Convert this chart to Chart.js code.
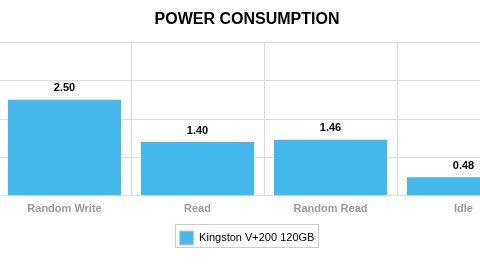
<!DOCTYPE html>
<html>
<head>
<meta charset="utf-8">
<script src="https://cdn.jsdelivr.net/npm/chart.js@4"></script>
<style>
  html, body { margin: 0; padding: 0; background: #fff; overflow: hidden; width: 480px; height: 267px; }
  #wrap { position: absolute; left: -36px; top: 0; width: 576px; height: 267px; }
</style>
</head>
<body>
<div id="wrap"><canvas id="powerChart"></canvas></div>
<script>
// chart data
const categories = ['Random Write', 'Read', 'Random Read', 'Idle'];
const seriesName = 'Kingston V+200 120GB';
const seriesValues = [2.50, 1.40, 1.46, 0.48];
const yTicks = [0, 1, 2, 3, 4];

const barColor = '#45b8ec';
const gridColor = '#dddddd';
const fontFamily = '"Liberation Sans", Arial, Helvetica, sans-serif';

// value labels above each bar
const barValueLabels = {
    id: 'barValueLabels',
    afterDatasetsDraw(chart) {
        const ctx = chart.ctx;
        ctx.save();
        ctx.font = 'bold 11px ' + fontFamily;
        ctx.fillStyle = '#000';
        ctx.textAlign = 'center';
        ctx.textBaseline = 'bottom';
        chart.getDatasetMeta(0).data.forEach((bar, i) => {
            ctx.fillText(seriesValues[i].toFixed(2), bar.x, bar.y - 6);
        });
        ctx.restore();
    }
};

// thin frame around the legend
const legendFrame = {
    id: 'legendFrame',
    afterDraw(chart) {
        const items = chart.legend.legendHitBoxes;
        if (!items || !items.length) return;
        const ctx = chart.ctx;
        let left = Infinity, right = -Infinity, top = Infinity, bottom = -Infinity;
        items.forEach(b => {
            left = Math.min(left, b.left);
            right = Math.max(right, b.left + b.width);
            top = Math.min(top, b.top);
            bottom = Math.max(bottom, b.top + b.height);
        });
        ctx.save();
        ctx.strokeStyle = '#cccccc';
        ctx.lineWidth = 1;
        ctx.strokeRect(Math.round(left - 5) + 0.5, Math.round(top - 7) + 0.5,
            Math.round(right - left + 8), Math.round(bottom - top + 9));
        ctx.restore();
    }
};

const ctx = document.getElementById('powerChart').getContext('2d');
new Chart(ctx, {
    type: 'bar',
    data: {
        labels: categories,
        datasets: [{
            label: seriesName,
            data: seriesValues,
            backgroundColor: barColor,
            borderColor: barColor,
            borderWidth: 0,
            categoryPercentage: 0.85,
            barPercentage: 1.0
        }]
    },
    options: {
        responsive: true,
        maintainAspectRatio: false,
        animation: false,
        layout: { padding: { left: 0, right: 10, top: 0, bottom: 12 } },
        scales: {
            x: {
                grid: { color: gridColor, offset: true, drawTicks: false },
                border: { color: gridColor },
                ticks: {
                    color: '#999999',
                    font: { family: fontFamily, size: 11, weight: 'bold' },
                    padding: 7,
                    maxRotation: 0
                }
            },
            y: {
                min: 0,
                max: 4,
                afterBuildTicks(scale) {
                    scale.ticks = yTicks.map(v => ({ value: v }));
                },
                afterFit(scale) { scale.width = 34; },
                grid: { color: gridColor, drawTicks: false },
                border: { display: false },
                ticks: { display: false }
            }
        },
        plugins: {
            title: {
                display: true,
                text: 'POWER CONSUMPTION',
                color: '#000',
                font: { family: fontFamily, size: 16, weight: 'bold' },
                padding: { top: 10, bottom: 13 }
            },
            legend: {
                position: 'bottom',
                labels: {
                    color: '#000',
                    font: { family: fontFamily, size: 11 },
                    boxWidth: 14,
                    boxHeight: 14,
                    padding: 8,
                    generateLabels() {
                        return [{
                            text: seriesName,
                            fillStyle: barColor,
                            strokeStyle: '#cccccc',
                            lineWidth: 1,
                            datasetIndex: 0
                        }];
                    }
                }
            },
            tooltip: { enabled: false }
        }
    },
    plugins: [barValueLabels, legendFrame]
});
</script>
</body>
</html>
